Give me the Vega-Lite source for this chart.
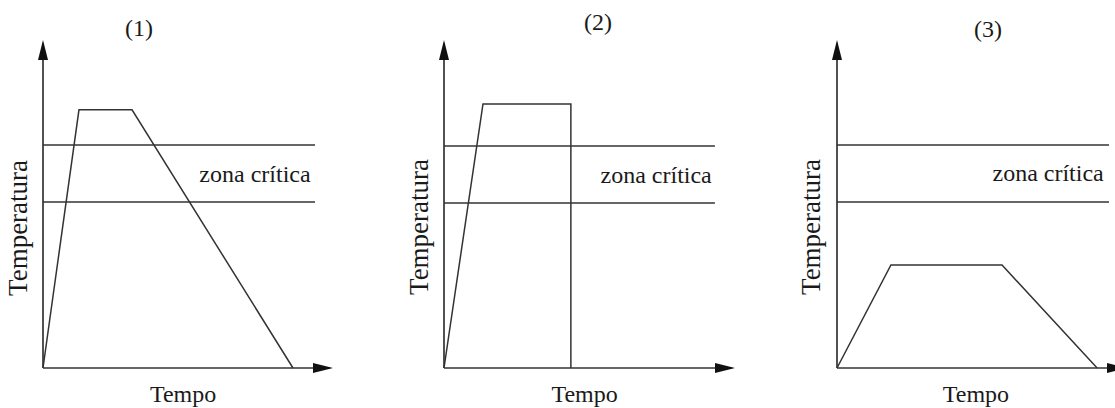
{
  "$schema": "https://vega.github.io/schema/vega-lite/v6.json",
  "background": "white",
  "autosize": {"type": "pad"},
  "padding": {"left": 4, "top": 10, "right": 0, "bottom": 0},
  "config": {
    "view": {"stroke": null},
    "text": {"font": "Liberation Serif", "color": "#1a1a1a"}
  },
  "datasets": {
    "axes": [
      {"panel": 1, "t": 0, "t2": 0, "temp": 0, "temp2": 99},
      {"panel": 1, "t": 0, "t2": 99, "temp": 0, "temp2": 0},
      {"panel": 2, "t": 0, "t2": 0, "temp": 0, "temp2": 99},
      {"panel": 2, "t": 0, "t2": 99, "temp": 0, "temp2": 0},
      {"panel": 3, "t": 0, "t2": 0, "temp": 0, "temp2": 99},
      {"panel": 3, "t": 0, "t2": 99, "temp": 0, "temp2": 0}
    ],
    "curve": [
      {"panel": 1, "i": 0, "t": 0, "temp": 0},
      {"panel": 1, "i": 1, "t": 12.4, "temp": 78.7},
      {"panel": 1, "i": 2, "t": 30.7, "temp": 78.7},
      {"panel": 1, "i": 3, "t": 86.2, "temp": 0},
      {"panel": 2, "i": 0, "t": 0, "temp": 0},
      {"panel": 2, "i": 1, "t": 13.4, "temp": 80.5},
      {"panel": 2, "i": 2, "t": 43.6, "temp": 80.5},
      {"panel": 2, "i": 3, "t": 43.6, "temp": 0},
      {"panel": 3, "i": 0, "t": 0, "temp": 0},
      {"panel": 3, "i": 1, "t": 18.6, "temp": 31.4},
      {"panel": 3, "i": 2, "t": 56.9, "temp": 31.4},
      {"panel": 3, "i": 3, "t": 89.7, "temp": 0}
    ],
    "zones": [
      {"panel": 1, "t": 0, "t2": 93.8, "temp": 68.0},
      {"panel": 1, "t": 0, "t2": 93.8, "temp": 50.6},
      {"panel": 2, "t": 0, "t2": 93.1, "temp": 67.7},
      {"panel": 2, "t": 0, "t2": 93.1, "temp": 50.3},
      {"panel": 3, "t": 0, "t2": 93.8, "temp": 68.0},
      {"panel": 3, "t": 0, "t2": 93.8, "temp": 50.6}
    ],
    "arrows": [
      {"panel": 1, "axis": "y", "t": 0, "temp": 100},
      {"panel": 1, "axis": "x", "t": 100, "temp": 0},
      {"panel": 2, "axis": "y", "t": 0, "temp": 100},
      {"panel": 2, "axis": "x", "t": 100, "temp": 0},
      {"panel": 3, "axis": "y", "t": 0, "temp": 100},
      {"panel": 3, "axis": "x", "t": 100, "temp": 0}
    ],
    "labels": [
      {"panel": 1, "role": "title", "t": 33.1, "temp": 103.4, "text": "(1)"},
      {"panel": 1, "role": "zone", "t": 73.1, "temp": 56.7, "text": "zona crítica"},
      {"panel": 1, "role": "xtitle", "t": 48.3, "temp": -10.4, "text": "Tempo"},
      {"panel": 1, "role": "ytitle", "t": -8.4, "temp": 42.7, "text": "Temperatura"},
      {"panel": 2, "role": "title", "t": 52.9, "temp": 105.2, "text": "(2)"},
      {"panel": 2, "role": "zone", "t": 72.9, "temp": 56.4, "text": "zona crítica"},
      {"panel": 2, "role": "xtitle", "t": 48.3, "temp": -10.4, "text": "Tempo"},
      {"panel": 2, "role": "ytitle", "t": -8.4, "temp": 43.0, "text": "Temperatura"},
      {"panel": 3, "role": "title", "t": 52.1, "temp": 103.0, "text": "(3)"},
      {"panel": 3, "role": "zone", "t": 72.8, "temp": 57.0, "text": "zona crítica"},
      {"panel": 3, "role": "xtitle", "t": 47.9, "temp": -10.4, "text": "Tempo"},
      {"panel": 3, "role": "ytitle", "t": -8.6, "temp": 43.0, "text": "Temperatura"}
    ]
  },
  "hconcat": [
    {
      "width": 299, "height": 328,
      "encoding": {
        "x": {"field": "t", "type": "quantitative", "scale": {"domain": [0, 103.1], "nice": false, "zero": false}, "axis": null},
        "y": {"field": "temp", "type": "quantitative", "scale": {"domain": [0, 100], "nice": false, "zero": false}, "axis": null}
      },
      "layer": [
        {"data": {"name": "axes"}, "transform": [{"filter": "datum.panel == 1"}], "mark": {"type": "rule", "stroke": "#333", "strokeWidth": 1.7}, "encoding": {"x2": {"field": "t2"}, "y2": {"field": "temp2"}}},
        {"data": {"name": "zones"}, "transform": [{"filter": "datum.panel == 1"}], "mark": {"type": "rule", "stroke": "#333", "strokeWidth": 1.5}, "encoding": {"x2": {"field": "t2"}}},
        {"data": {"name": "curve"}, "transform": [{"filter": "datum.panel == 1"}], "mark": {"type": "line", "stroke": "#333", "strokeWidth": 1.5}, "encoding": {"order": {"field": "i", "type": "quantitative"}}},
        {"data": {"name": "arrows"}, "transform": [{"filter": "datum.panel == 1"}], "mark": {"type": "point", "filled": true, "fill": "#111", "stroke": null, "size": 100, "opacity": 1}, "encoding": {"shape": {"field": "axis", "type": "nominal", "scale": {"domain": ["x", "y"], "range": ["M0,0L-4,-1L-4,1Z", "M0,0L1,4L-1,4Z"]}, "legend": null}}},
        {"data": {"name": "labels"}, "transform": [{"filter": "datum.panel == 1 && datum.role == 'title'"}], "mark": {"type": "text", "fontSize": 24, "align": "center", "baseline": "middle"}, "encoding": {"text": {"field": "text"}}},
        {"data": {"name": "labels"}, "transform": [{"filter": "datum.panel == 1 && (datum.role == 'zone' || datum.role == 'xtitle')"}], "mark": {"type": "text", "fontSize": 24, "align": "center", "baseline": "alphabetic"}, "encoding": {"text": {"field": "text"}}},
        {"data": {"name": "labels"}, "transform": [{"filter": "datum.panel == 1 && datum.role == 'ytitle'"}], "mark": {"type": "text", "fontSize": 27, "align": "center", "baseline": "middle", "angle": 270}, "encoding": {"text": {"field": "text"}}}
      ]
    },
    {
      "width": 291, "height": 328,
      "encoding": {
        "x": {"field": "t", "type": "quantitative", "scale": {"domain": [0, 100], "nice": false, "zero": false}, "axis": null},
        "y": {"field": "temp", "type": "quantitative", "scale": {"domain": [0, 100], "nice": false, "zero": false}, "axis": null}
      },
      "layer": [
        {"data": {"name": "axes"}, "transform": [{"filter": "datum.panel == 2"}], "mark": {"type": "rule", "stroke": "#333", "strokeWidth": 1.7}, "encoding": {"x2": {"field": "t2"}, "y2": {"field": "temp2"}}},
        {"data": {"name": "zones"}, "transform": [{"filter": "datum.panel == 2"}], "mark": {"type": "rule", "stroke": "#333", "strokeWidth": 1.5}, "encoding": {"x2": {"field": "t2"}}},
        {"data": {"name": "curve"}, "transform": [{"filter": "datum.panel == 2"}], "mark": {"type": "line", "stroke": "#333", "strokeWidth": 1.5}, "encoding": {"order": {"field": "i", "type": "quantitative"}}},
        {"data": {"name": "arrows"}, "transform": [{"filter": "datum.panel == 2"}], "mark": {"type": "point", "filled": true, "fill": "#111", "stroke": null, "size": 100, "opacity": 1}, "encoding": {"shape": {"field": "axis", "type": "nominal", "scale": {"domain": ["x", "y"], "range": ["M0,0L-4,-1L-4,1Z", "M0,0L1,4L-1,4Z"]}, "legend": null}}},
        {"data": {"name": "labels"}, "transform": [{"filter": "datum.panel == 2 && datum.role == 'title'"}], "mark": {"type": "text", "fontSize": 24, "align": "center", "baseline": "middle"}, "encoding": {"text": {"field": "text"}}},
        {"data": {"name": "labels"}, "transform": [{"filter": "datum.panel == 2 && (datum.role == 'zone' || datum.role == 'xtitle')"}], "mark": {"type": "text", "fontSize": 24, "align": "center", "baseline": "alphabetic"}, "encoding": {"text": {"field": "text"}}},
        {"data": {"name": "labels"}, "transform": [{"filter": "datum.panel == 2 && datum.role == 'ytitle'"}], "mark": {"type": "text", "fontSize": 27, "align": "center", "baseline": "middle", "angle": 270}, "encoding": {"text": {"field": "text"}}}
      ]
    },
    {
      "width": 290, "height": 328,
      "encoding": {
        "x": {"field": "t", "type": "quantitative", "scale": {"domain": [0, 100], "nice": false, "zero": false}, "axis": null},
        "y": {"field": "temp", "type": "quantitative", "scale": {"domain": [0, 100], "nice": false, "zero": false}, "axis": null}
      },
      "layer": [
        {"data": {"name": "axes"}, "transform": [{"filter": "datum.panel == 3"}], "mark": {"type": "rule", "stroke": "#333", "strokeWidth": 1.7}, "encoding": {"x2": {"field": "t2"}, "y2": {"field": "temp2"}}},
        {"data": {"name": "zones"}, "transform": [{"filter": "datum.panel == 3"}], "mark": {"type": "rule", "stroke": "#333", "strokeWidth": 1.5}, "encoding": {"x2": {"field": "t2"}}},
        {"data": {"name": "curve"}, "transform": [{"filter": "datum.panel == 3"}], "mark": {"type": "line", "stroke": "#333", "strokeWidth": 1.5}, "encoding": {"order": {"field": "i", "type": "quantitative"}}},
        {"data": {"name": "arrows"}, "transform": [{"filter": "datum.panel == 3"}], "mark": {"type": "point", "filled": true, "fill": "#111", "stroke": null, "size": 100, "opacity": 1}, "encoding": {"shape": {"field": "axis", "type": "nominal", "scale": {"domain": ["x", "y"], "range": ["M0,0L-4,-1L-4,1Z", "M0,0L1,4L-1,4Z"]}, "legend": null}}},
        {"data": {"name": "labels"}, "transform": [{"filter": "datum.panel == 3 && datum.role == 'title'"}], "mark": {"type": "text", "fontSize": 24, "align": "center", "baseline": "middle"}, "encoding": {"text": {"field": "text"}}},
        {"data": {"name": "labels"}, "transform": [{"filter": "datum.panel == 3 && (datum.role == 'zone' || datum.role == 'xtitle')"}], "mark": {"type": "text", "fontSize": 24, "align": "center", "baseline": "alphabetic"}, "encoding": {"text": {"field": "text"}}},
        {"data": {"name": "labels"}, "transform": [{"filter": "datum.panel == 3 && datum.role == 'ytitle'"}], "mark": {"type": "text", "fontSize": 27, "align": "center", "baseline": "middle", "angle": 270}, "encoding": {"text": {"field": "text"}}}
      ]
    }
  ],
  "spacing": 102,
  "bounds": "flush",
  "resolve": {"scale": {"shape": "independent"}}
}
